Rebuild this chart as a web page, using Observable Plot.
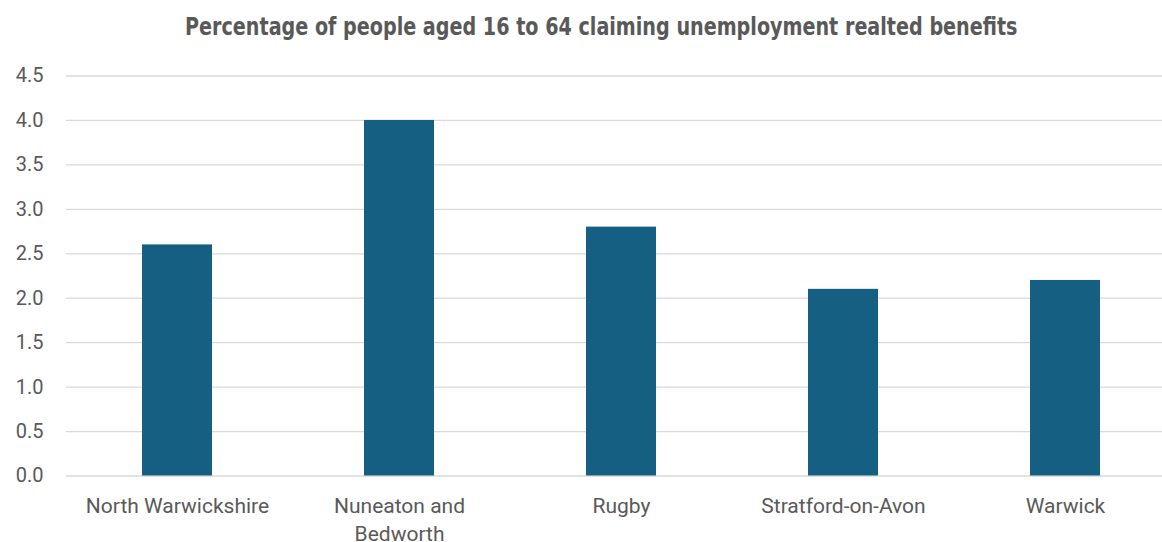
<!DOCTYPE html>
<html>
<head>
<meta charset="utf-8">
<script src="https://cdn.jsdelivr.net/npm/d3@7"></script>
<script src="https://cdn.jsdelivr.net/npm/@observablehq/plot@0.6"></script>
<style>
  html, body { margin: 0; padding: 0; background: #ffffff; overflow: hidden; }
  #wrap { position: relative; width: 1162px; height: 542px; overflow: hidden; }
  #title { position: absolute; left: 20px; top: 15px; width: 1162px; text-align: center;
    font-family: "Liberation Sans Narrow", "DejaVu Sans Condensed", sans-serif; font-weight: bold;
    font-size: 24px; line-height: 1; color: #595959; }
  #title span { display: inline-block; transform: scaleX(0.887); transform-origin: center; white-space: nowrap; }
  #chart svg { display: block; }
</style>
</head>
<body>
<div id="wrap">
  <div id="chart"></div>
  <div id="title"><span>Percentage of people aged 16 to 64 claiming unemployment realted benefits</span></div>
</div>
<script>
const categories = ["North Warwickshire", "Nuneaton and Bedworth", "Rugby", "Stratford-on-Avon", "Warwick"];
const values = [2.6, 4.0, 2.8, 2.1, 2.2];
const yTicks = [0, 0.5, 1, 1.5, 2, 2.5, 3, 3.5, 4, 4.5];
const xLabels = {"Nuneaton and Bedworth": "Nuneaton and\nBedworth"};

const data = categories.map((c, i) => ({name: c, value: values[i]}));

const chart = Plot.plot({
  width: 1162,
  height: 542,
  marginLeft: 66,
  marginRight: 0,
  marginTop: 75.5,
  marginBottom: 66.5,
  style: {fontFamily: "Roboto, sans-serif", background: "#ffffff", color: "#595959"},
  x: {type: "band", domain: categories, range: [66, 1176.5], paddingInner: 0.686, paddingOuter: 0.343, align: 0.5, label: null},
  y: {domain: [0, 4.5], label: null},
  marks: [
    Plot.ruleY(yTicks, {stroke: "#d9d9d9", strokeWidth: 1.3}),
    Plot.barY(data, {x: "name", y: "value", fill: "#156082"}),
    Plot.axisY(yTicks, {tickSize: 0, tickPadding: 23, tickFormat: d => d.toFixed(1), fontSize: 20, fill: "#595959"}),
    Plot.axisX({tickSize: 0, tickPadding: 16.5, tickFormat: d => xLabels[d] || d, fontSize: 21, lineHeight: 1.35, fill: "#595959"})
  ]
});
document.getElementById("chart").appendChild(chart);
</script>
</body>
</html>
